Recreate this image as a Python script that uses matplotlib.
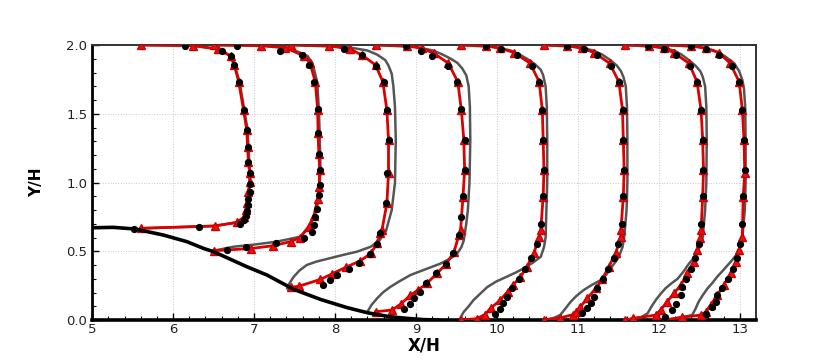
import matplotlib
matplotlib.use("Agg")
import matplotlib.pyplot as plt
from matplotlib.ticker import MultipleLocator, FormatStrFormatter

# hill wall
hill_x = [5.0, 5.26, 5.53, 5.88, 6.17, 6.375, 6.5, 6.91, 7.16, 7.49, 7.82, 8.15, 8.40, 8.68, 8.89, 9.1, 9.3]
hill_y = [0.671, 0.674, 0.662, 0.618, 0.57, 0.521, 0.497, 0.388, 0.327, 0.223, 0.15, 0.09, 0.053, 0.024, 0.012, 0.003, 0.0]

# station positions (X/H where U = 0)
stations = [5.6, 6.5, 7.45, 8.5, 9.55, 10.58, 11.58, 12.08]

# red model (line + triangles): Y/H and U per station
red_y = [
    [0.667, 0.684, 0.71, 0.75, 0.80, 0.85, 0.93, 1.006, 1.07, 1.15, 1.26, 1.38, 1.527, 1.733, 1.855, 1.92, 1.97, 1.995, 2.0],
    [0.504, 0.52, 0.54, 0.57, 0.60, 0.68, 0.76, 0.88, 0.97, 1.09, 1.21, 1.36, 1.53, 1.73, 1.87, 1.92, 1.98, 1.995, 2.0],
    [0.238, 0.245, 0.296, 0.335, 0.383, 0.43, 0.484, 0.558, 0.63, 0.655, 0.85, 1.067, 1.31, 1.527, 1.733, 1.855, 1.927, 1.97, 1.995, 2.0],
    [0.06, 0.073, 0.116, 0.18, 0.22, 0.27, 0.34, 0.41, 0.497, 0.62, 0.655, 0.897, 1.09, 1.31, 1.527, 1.733, 1.867, 1.94, 1.976, 1.995, 2.0],
    [0.0, 0.01, 0.04, 0.085, 0.145, 0.206, 0.255, 0.315, 0.388, 0.485, 0.606, 0.655, 0.897, 1.09, 1.31, 1.527, 1.733, 1.867, 1.945, 1.976, 1.995, 2.0],
    [0.0, 0.015, 0.04, 0.06, 0.097, 0.158, 0.23, 0.296, 0.388, 0.485, 0.606, 0.655, 0.897, 1.09, 1.31, 1.527, 1.733, 1.867, 1.945, 1.976, 1.995, 2.0],
    [0.0, 0.012, 0.036, 0.073, 0.133, 0.194, 0.255, 0.34, 0.424, 0.51, 0.60, 0.655, 0.897, 1.09, 1.31, 1.527, 1.733, 1.867, 1.945, 1.976, 1.995, 2.0],
    [0.0, 0.02, 0.036, 0.06, 0.11, 0.18, 0.255, 0.34, 0.424, 0.51, 0.606, 0.897, 1.067, 1.31, 1.527, 1.733, 1.867, 1.945, 1.976, 1.995, 2.0],
]
red_u = [
    [0.0, 0.92, 1.19, 1.28, 1.30, 1.31, 1.33, 1.345, 1.345, 1.33, 1.32, 1.31, 1.27, 1.21, 1.155, 1.11, 0.96, 0.65, 0.0],
    [0.0, 0.46, 0.73, 0.95, 1.07, 1.175, 1.24, 1.285, 1.305, 1.31, 1.30, 1.29, 1.285, 1.257, 1.19, 1.12, 0.885, 0.58, 0.0],
    [0.0, 0.1, 0.37, 0.51, 0.68, 0.86, 0.99, 1.07, 1.11, 1.13, 1.19, 1.21, 1.21, 1.19, 1.14, 1.05, 0.88, 0.74, 0.47, 0.0],
    [0.0, 0.205, 0.31, 0.43, 0.53, 0.64, 0.76, 0.875, 0.97, 1.03, 1.05, 1.08, 1.10, 1.09, 1.06, 1.015, 0.90, 0.72, 0.57, 0.39, 0.0],
    [0.0, 0.2, 0.3, 0.37, 0.49, 0.58, 0.65, 0.74, 0.82, 0.905, 0.97, 0.99, 1.02, 1.03, 1.02, 1.01, 0.97, 0.86, 0.66, 0.49, 0.31, 0.0],
    [0.0, 0.2, 0.36, 0.39, 0.45, 0.535, 0.64, 0.72, 0.80, 0.885, 0.95, 0.95, 0.98, 0.99, 0.98, 0.97, 0.925, 0.81, 0.62, 0.47, 0.29, 0.0],
    [0.0, 0.1, 0.38, 0.44, 0.52, 0.605, 0.69, 0.77, 0.85, 0.89, 0.93, 0.94, 0.96, 0.97, 0.96, 0.94, 0.89, 0.79, 0.60, 0.48, 0.30, 0.0],
    [0.0, 0.2, 0.44, 0.50, 0.56, 0.64, 0.72, 0.81, 0.87, 0.91, 0.95, 0.96, 0.98, 0.97, 0.95, 0.91, 0.80, 0.66, 0.50, 0.31, 0.0],
]

# gray model
gray_y = [
    [0.667, 0.684, 0.71, 0.75, 0.80, 0.85, 0.93, 1.006, 1.07, 1.15, 1.26, 1.38, 1.527, 1.733, 1.855, 1.92, 1.97, 1.995, 2.0],
    [0.504, 0.533, 0.55, 0.57, 0.606, 0.68, 0.76, 0.88, 1.09, 1.36, 1.53, 1.73, 1.87, 1.92, 1.98, 1.995, 2.0],
    [0.23, 0.27, 0.315, 0.36, 0.40, 0.425, 0.45, 0.475, 0.497, 0.533, 0.58, 0.65, 0.8, 1.0, 1.31, 1.55, 1.70, 1.79, 1.85, 1.89, 1.93, 1.96, 1.985, 2.0],
    [0.06, 0.11, 0.158, 0.20, 0.24, 0.28, 0.327, 0.37, 0.41, 0.45, 0.485, 0.53, 0.58, 0.7, 0.8, 1.0, 1.31, 1.55, 1.70, 1.78, 1.83, 1.87, 1.90, 1.93, 1.96, 1.985, 2.0],
    [0.0, 0.02, 0.06, 0.10, 0.145, 0.19, 0.24, 0.28, 0.315, 0.345, 0.376, 0.42, 0.46, 0.53, 0.6, 0.8, 1.0, 1.31, 1.55, 1.70, 1.78, 1.82, 1.86, 1.90, 1.93, 1.96, 1.985, 2.0],
    [0.0, 0.015, 0.036, 0.08, 0.133, 0.175, 0.218, 0.255, 0.29, 0.33, 0.376, 0.42, 0.46, 0.53, 0.6, 0.8, 1.0, 1.31, 1.55, 1.70, 1.77, 1.81, 1.85, 1.89, 1.93, 1.96, 1.985, 2.0],
    [0.0, 0.02, 0.049, 0.10, 0.145, 0.19, 0.23, 0.265, 0.30, 0.35, 0.41, 0.45, 0.485, 0.54, 0.6, 0.8, 1.0, 1.31, 1.55, 1.70, 1.77, 1.81, 1.85, 1.89, 1.93, 1.96, 1.985, 2.0],
    [0.0, 0.02, 0.036, 0.08, 0.133, 0.18, 0.23, 0.27, 0.315, 0.36, 0.40, 0.44, 0.47, 0.53, 0.6, 0.8, 1.0, 1.31, 1.55, 1.68, 1.745, 1.81, 1.867, 1.92, 1.96, 1.985, 2.0],
]
gray_u = [
    [0.0, 0.90, 1.18, 1.28, 1.31, 1.32, 1.34, 1.35, 1.35, 1.34, 1.33, 1.32, 1.28, 1.22, 1.16, 1.11, 0.96, 0.65, 0.0],
    [0.0, 0.245, 0.52, 0.78, 1.07, 1.18, 1.25, 1.30, 1.32, 1.31, 1.30, 1.28, 1.22, 1.16, 0.93, 0.6, 0.0],
    [-0.04, -0.01, 0.04, 0.11, 0.20, 0.32, 0.49, 0.66, 0.82, 0.99, 1.10, 1.18, 1.25, 1.29, 1.30, 1.29, 1.27, 1.25, 1.21, 1.17, 1.07, 0.95, 0.7, 0.0],
    [-0.10, -0.05, 0.02, 0.09, 0.18, 0.29, 0.43, 0.62, 0.80, 0.93, 1.01, 1.06, 1.09, 1.12, 1.14, 1.16, 1.17, 1.165, 1.15, 1.12, 1.07, 1.01, 0.93, 0.83, 0.71, 0.5, 0.0],
    [0.0, 0.0, 0.04, 0.10, 0.16, 0.24, 0.33, 0.44, 0.57, 0.68, 0.78, 0.90, 0.99, 1.03, 1.05, 1.06, 1.07, 1.07, 1.065, 1.05, 1.02, 0.99, 0.92, 0.82, 0.73, 0.62, 0.42, 0.0],
    [0.0, 0.12, 0.2, 0.26, 0.33, 0.40, 0.49, 0.59, 0.70, 0.77, 0.82, 0.88, 0.925, 0.97, 0.99, 1.02, 1.03, 1.03, 1.025, 1.01, 0.98, 0.95, 0.90, 0.82, 0.72, 0.61, 0.42, 0.0],
    [0.0, 0.2, 0.28, 0.33, 0.38, 0.44, 0.50, 0.57, 0.65, 0.72, 0.79, 0.85, 0.89, 0.93, 0.96, 0.99, 1.005, 1.01, 1.005, 0.99, 0.96, 0.93, 0.87, 0.79, 0.70, 0.61, 0.42, 0.0],
    [0.0, 0.2, 0.33, 0.37, 0.41, 0.46, 0.52, 0.58, 0.64, 0.71, 0.77, 0.83, 0.87, 0.92, 0.95, 0.98, 0.99, 0.99, 0.985, 0.97, 0.95, 0.91, 0.85, 0.73, 0.60, 0.42, 0.0],
]

# reference data (black dots)
ref_y = [
    [0.662, 0.68, 0.70, 0.73, 0.76, 0.79, 0.84, 0.88, 0.93, 0.99, 1.07, 1.15, 1.26, 1.38, 1.53, 1.73, 1.855, 1.92, 1.96, 1.99],
    [0.51, 0.533, 0.562, 0.60, 0.64, 0.69, 0.747, 0.81, 0.91, 0.98, 1.09, 1.21, 1.36, 1.535, 1.73, 1.855, 1.93, 1.96, 1.99],
    [0.255, 0.29, 0.327, 0.368, 0.417, 0.48, 0.553, 0.635, 0.85, 1.067, 1.31, 1.53, 1.733, 1.85, 1.927, 1.97],
    [0.078, 0.116, 0.158, 0.206, 0.267, 0.34, 0.41, 0.49, 0.62, 0.75, 0.9, 1.09, 1.31, 1.535, 1.73, 1.85, 1.92, 1.96, 1.99],
    [0.044, 0.08, 0.126, 0.17, 0.23, 0.3, 0.37, 0.45, 0.55, 0.7, 0.9, 1.09, 1.31, 1.53, 1.73, 1.85, 1.93, 1.97, 1.995],
    [0.049, 0.085, 0.126, 0.17, 0.23, 0.3, 0.37, 0.45, 0.55, 0.7, 0.9, 1.09, 1.31, 1.53, 1.73, 1.85, 1.93, 1.97, 1.995],
    [0.073, 0.12, 0.18, 0.238, 0.3, 0.37, 0.45, 0.55, 0.7, 0.9, 1.09, 1.31, 1.53, 1.73, 1.85, 1.93, 1.97, 1.995],
    [0.02, 0.044, 0.092, 0.133, 0.18, 0.23, 0.3, 0.37, 0.45, 0.55, 0.7, 0.9, 1.09, 1.31, 1.53, 1.73, 1.85, 1.93, 1.97, 1.995],
]
ref_u = [
    [-0.08, 0.72, 1.23, 1.28, 1.30, 1.31, 1.32, 1.33, 1.345, 1.35, 1.35, 1.33, 1.32, 1.31, 1.28, 1.21, 1.155, 1.11, 1.0, 0.55],
    [0.165, 0.40, 0.77, 1.12, 1.215, 1.24, 1.257, 1.28, 1.30, 1.31, 1.31, 1.30, 1.29, 1.29, 1.24, 1.175, 1.09, 0.82, 0.29],
    [0.40, 0.49, 0.58, 0.72, 0.84, 0.98, 1.07, 1.11, 1.175, 1.19, 1.22, 1.19, 1.15, 1.06, 0.88, 0.66],
    [0.35, 0.42, 0.48, 0.55, 0.62, 0.75, 0.87, 0.96, 1.03, 1.06, 1.08, 1.10, 1.10, 1.06, 1.01, 0.89, 0.70, 0.56, 0.38],
    [0.43, 0.49, 0.53, 0.57, 0.63, 0.72, 0.80, 0.87, 0.94, 0.99, 1.02, 1.03, 1.02, 1.01, 0.97, 0.88, 0.70, 0.50, 0.31],
    [0.47, 0.535, 0.58, 0.62, 0.66, 0.73, 0.79, 0.86, 0.92, 0.96, 0.98, 0.99, 0.98, 0.97, 0.925, 0.83, 0.66, 0.49, 0.28],
    [0.58, 0.63, 0.69, 0.71, 0.76, 0.82, 0.87, 0.91, 0.94, 0.96, 0.97, 0.96, 0.94, 0.89, 0.80, 0.63, 0.48, 0.28],
    [0.0, 0.50, 0.58, 0.62, 0.64, 0.70, 0.77, 0.83, 0.88, 0.92, 0.95, 0.96, 0.98, 0.97, 0.95, 0.91, 0.82, 0.66, 0.50, 0.31],
]

fig = plt.figure(figsize=(8.3, 3.6), dpi=100)
ax = fig.add_axes([0.111, 0.111, 0.8, 0.764])

for i, x0 in enumerate(stations):
    gx = [x0 + u for u in gray_u[i]]
    ax.plot(gx, gray_y[i], color="#555555", lw=1.8, zorder=2)
    rx = [x0 + u for u in red_u[i]]
    ax.plot(rx, red_y[i], color="#00aa00", lw=1.0, zorder=3)
    ax.plot(rx, red_y[i], color="#dd0000", lw=2.0, marker="^", ms=5.5,
            mfc="#e81010", mec="#cc0000", zorder=4)
    dx = [x0 + u for u in ref_u[i]]
    ax.plot(dx, ref_y[i], "o", color="black", ms=4.2, zorder=5)

ax.plot(hill_x, hill_y, color="black", lw=2.6, zorder=6, solid_capstyle="butt")

ax.set_xlim(5, 13.2)
ax.set_ylim(0, 2)
ax.xaxis.set_major_locator(MultipleLocator(1))
ax.xaxis.set_minor_locator(MultipleLocator(0.2))
ax.yaxis.set_major_locator(MultipleLocator(0.5))
ax.yaxis.set_minor_locator(MultipleLocator(0.1))
ax.yaxis.set_major_formatter(FormatStrFormatter("%.1f"))
ax.tick_params(which="both", direction="in", labelsize=9.5, labelcolor="#222222")
ax.tick_params(which="major", length=5, width=1)
ax.tick_params(which="minor", length=3, width=0.8)
ax.tick_params(axis="x", pad=2)
ax.grid(True, which="major", ls=":", color="#c8c8c8", lw=0.7)

ax.spines["left"].set_linewidth(2.0)
ax.spines["bottom"].set_linewidth(2.6)
ax.spines["top"].set_linewidth(1.4)
ax.spines["right"].set_linewidth(1.4)
ax.spines["top"].set_color("#333333")
ax.spines["right"].set_color("#333333")

ax.set_xlabel("X/H", fontsize=12, fontweight="bold", labelpad=0.5)
ax.set_ylabel("Y/H", fontsize=11, fontweight="bold", labelpad=16)

fig.savefig("out.png", dpi=100)
